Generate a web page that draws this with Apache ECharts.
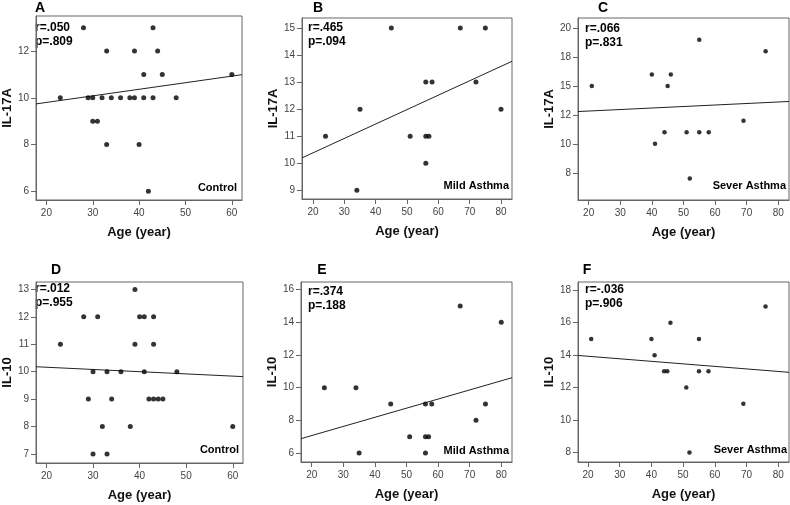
<!DOCTYPE html>
<html><head><meta charset="utf-8">
<script src="https://cdn.jsdelivr.net/npm/echarts@6/dist/echarts.min.js"></script>
<style>html,body{margin:0;padding:0;background:#fff}#c{width:790px;height:505px}</style>
</head><body><div id="c"></div>
<script>
// ---------- DATA ----------
const panelLetters = ['A', 'B', 'C', 'D', 'E', 'F'];
const groupNames = ['Control', 'Mild Asthma', 'Sever Asthma', 'Control', 'Mild Asthma', 'Sever Asthma'];
const rTexts = ['r=.050', 'r=.465', 'r=.066', 'r=.012', 'r=.374', 'r=-.036'];
const pTexts = ['p=.809', 'p=.094', 'p=.831', 'p=.955', 'p=.188', 'p=.906'];
const yNames = ['IL-17A', 'IL-17A', 'IL-17A', 'IL-10', 'IL-10', 'IL-10'];
const xName = 'Age (year)';

// Control, IL-17A
const ageA = [23, 28, 29, 30, 30, 31, 32, 33, 33, 34, 36, 38, 39, 39, 40, 41, 41, 42, 43, 43, 44, 45, 48, 60];
const il17A_control = [10, 13, 10, 10, 9, 9, 10, 12, 8, 10, 10, 10, 12, 10, 8, 11, 10, 6, 13, 10, 12, 11, 10, 11];
// Mild asthma, IL-17A
const ageB = [24, 34, 35, 45, 51, 56, 56, 56, 57, 58, 67, 72, 75, 80];
const il17A_mild = [11, 9, 12, 15, 11, 13, 11, 10, 11, 13, 15, 13, 15, 12];
// Severe asthma, IL-17A
const ageC = [21, 40, 41, 44, 45, 46, 51, 52, 55, 55, 58, 69, 76];
const il17A_severe = [15, 16, 10, 11, 15, 16, 11, 7, 19, 11, 11, 12, 18];
// Control, IL-10
const ageD = [23, 28, 29, 30, 30, 31, 32, 33, 33, 34, 36, 38, 39, 39, 40, 41, 41, 42, 43, 43, 43, 44, 45, 48, 60];
const il10_control = [11, 12, 9, 10, 7, 12, 8, 10, 7, 9, 10, 8, 13, 11, 12, 12, 10, 9, 12, 11, 9, 9, 9, 10, 8];
// Mild asthma, IL-10
const ageE = [24, 34, 35, 45, 51, 56, 56, 56, 57, 58, 67, 72, 75, 80];
const il10_mild = [10, 10, 6, 9, 7, 9, 7, 6, 7, 9, 15, 8, 9, 14];
// Severe asthma, IL-10
const ageF = [21, 40, 41, 44, 45, 46, 51, 52, 55, 55, 58, 69, 76];
const il10_severe = [15, 15, 14, 13, 13, 16, 12, 8, 15, 13, 13, 11, 17];

// fit line values at the left and right edge of each plot
const fitA = [9.74, 10.99];
const fitB = [10.2, 13.77];
const fitC = [12.79, 13.66];
const fitD = [10.18, 9.82];
const fitE = [6.88, 10.61];
const fitF = [13.98, 12.94];

// tick values / labels
const xTicksControl = [20, 30, 40, 50, 60];
const xTicksAsthma = [20, 30, 40, 50, 60, 70, 80];
const yTicksA = [6, 8, 10, 12];
const yTicksB = [9, 10, 11, 12, 13, 14, 15];
const yTicksC = [7.5, 10, 12.5, 15, 17.5, 20];
const yTickLabelsC = ['8', '10', '12', '15', '18', '20'];
const yTicksD = [7, 8, 9, 10, 11, 12, 13];
const yTicksE = [6, 8, 10, 12, 14, 16];
const yTicksF = [8, 10, 12, 14, 16, 18];

// ---------- LAYOUT ----------
const FONT = "'Liberation Sans', Arial, sans-serif";
const panels = [
  {xs: ageA, ys: il17A_control, fit: fitA, xt: xTicksControl, yt: yTicksA, yl: null,
   grid: {left: 30, top: 16, width: 212, height: 184}, xr: [17.76, 62.2], yr: [5.63, 13.5]},
  {xs: ageB, ys: il17A_mild, fit: fitB, xt: xTicksAsthma, yt: yTicksB, yl: null,
   grid: {left: 302, top: 18, width: 210, height: 181}, xr: [16.5, 83.5], yr: [8.68, 15.37]},
  {xs: ageC, ys: il17A_severe, fit: fitC, xt: xTicksAsthma, yt: yTicksC, yl: yTickLabelsC,
   grid: {left: 578, top: 18, width: 211, height: 182}, xr: [16.63, 83.4], yr: [5.15, 20.87]},
  {xs: ageD, ys: il10_control, fit: fitD, xt: xTicksControl, yt: yTicksD, yl: null,
   grid: {left: 30, top: 282, width: 213, height: 181}, xr: [17.76, 62.2], yr: [6.67, 13.27]},
  {xs: ageE, ys: il10_mild, fit: fitE, xt: xTicksAsthma, yt: yTicksE, yl: null,
   grid: {left: 301, top: 282, width: 211, height: 180}, xr: [16.6, 83.4], yr: [5.45, 16.47]},
  {xs: ageF, ys: il10_severe, fit: fitF, xt: xTicksAsthma, yt: yTicksF, yl: null,
   grid: {left: 578, top: 282, width: 211, height: 180}, xr: [16.84, 83.4], yr: [7.41, 18.51]}
];
const letterPos = [[40, 8], [318, 8], [603, 8], [56, 270], [322, 270], [587, 270]];
const rPos = [[35, 28], [308, 28], [585, 29], [35, 289], [308, 292], [585, 290]];
const groupPos = [[237, 188], [509, 186], [786, 186], [239, 450], [509, 451], [787, 450]];

const grids = [], xAxes = [], yAxes = [], series = [], graphics = [];
panels.forEach((p, i) => {
  grids.push(Object.assign({show: true, borderColor: '#666', borderWidth: 1, backgroundColor: '#fff'}, p.grid));
  xAxes.push({
    type: 'value', gridIndex: i, min: p.xr[0], max: p.xr[1],
    name: xName, nameLocation: 'middle', nameGap: 26,
    nameTextStyle: {fontFamily: FONT, fontWeight: 'bold', fontSize: 13, color: '#111'},
    axisLine: {show: true, lineStyle: {color: '#666', width: 1}},
    axisTick: {show: true, length: 5, lineStyle: {color: '#666'}, customValues: p.xt},
    axisLabel: {customValues: p.xt, fontFamily: FONT, fontSize: 10, color: '#444', margin: 8},
    splitLine: {show: false}
  });
  yAxes.push({
    type: 'value', gridIndex: i, min: p.yr[0], max: p.yr[1],
    name: yNames[i], nameLocation: 'middle', nameGap: 14, nameRotate: 90,
    nameTextStyle: {fontFamily: FONT, fontWeight: 'bold', fontSize: 13, color: '#111'},
    axisLine: {show: true, lineStyle: {color: '#666', width: 1}},
    axisTick: {show: true, length: 5, lineStyle: {color: '#666'}, customValues: p.yt},
    axisLabel: {
      customValues: p.yt, fontFamily: FONT, fontSize: 10, color: '#444', margin: 7,
      formatter: (v) => {
        if (p.yl) { const k = p.yt.findIndex(t => Math.abs(t - v) < 1e-6); return k >= 0 ? p.yl[k] : ''; }
        return String(v);
      }
    },
    splitLine: {show: false}
  });
  series.push({
    type: 'scatter', xAxisIndex: i, yAxisIndex: i,
    data: p.xs.map((x, k) => [x, p.ys[k]]),
    symbol: 'circle', symbolSize: (i === 2 || i === 5) ? 4.5 : 5,
    itemStyle: {color: '#000'}, silent: true, z: 3
  });
  series.push({
    type: 'line', xAxisIndex: i, yAxisIndex: i,
    data: [[p.xr[0], p.fit[0]], [p.xr[1], p.fit[1]]],
    symbol: 'none', lineStyle: {color: '#222', width: 1}, silent: true, z: 2
  });
  graphics.push({type: 'text', x: letterPos[i][0], y: letterPos[i][1],
    style: {text: panelLetters[i], font: 'bold 14px ' + FONT, fill: '#000', align: 'center', verticalAlign: 'middle'}});
  graphics.push({type: 'text', x: rPos[i][0], y: rPos[i][1],
    style: {text: rTexts[i], font: 'bold 12px ' + FONT, fill: '#000', align: 'left', verticalAlign: 'middle'}});
  graphics.push({type: 'text', x: rPos[i][0], y: rPos[i][1] + 14,
    style: {text: pTexts[i], font: 'bold 12px ' + FONT, fill: '#000', align: 'left', verticalAlign: 'middle'}});
  graphics.push({type: 'text', x: groupPos[i][0], y: groupPos[i][1],
    style: {text: groupNames[i], font: 'bold 11px ' + FONT, fill: '#000', align: 'right', verticalAlign: 'middle'}});
});

const chart = echarts.init(document.getElementById('c'), null, {renderer: 'canvas'});
chart.setOption({
  backgroundColor: '#fff',
  animation: false,
  grid: grids, xAxis: xAxes, yAxis: yAxes, series: series,
  graphic: {elements: graphics}
});
</script></body></html>
